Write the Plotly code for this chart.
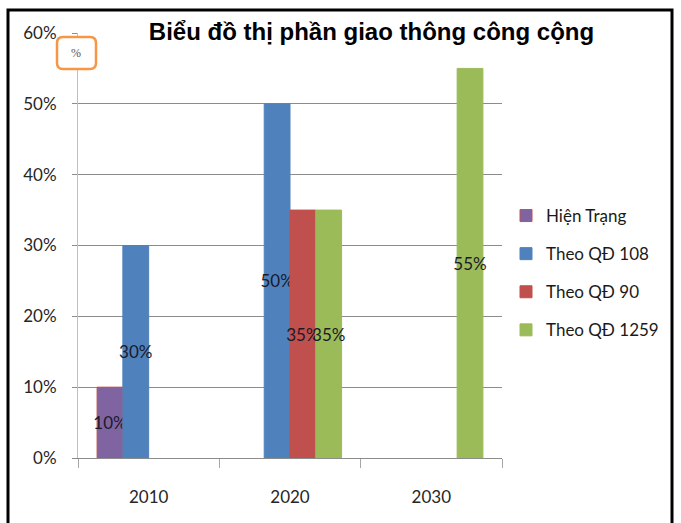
import plotly.graph_objects as go

# Chart data
years = ["2010", "2020", "2030"]
series_names = ["Hiện Trạng", "Theo QĐ 108", "Theo QĐ 90", "Theo QĐ 1259"]
hien_trang = [10, None, None]
qd_108 = [30, 50, None]
qd_90 = [None, 35, None]
qd_1259 = [None, 35, 55]
y_ticks = [0, 10, 20, 30, 40, 50, 60]
y_tick_labels = [f"{v}%" for v in y_ticks]

values = [hien_trang, qd_108, qd_90, qd_1259]
fills = ["#8064A2", "#4F81BD", "#C0504D", "#9BBB59"]
outlines = ["#C0504D", "#4F81BD", "#C0504D", "#9BBB59"]

# Page geometry (pixels)
W, H = 681, 523
ML, MR, MT, MB = 78, 179, 33, 65
PW, PH = W - ML - MR, H - MT - MB


def px(x):
    return (x - ML) / PW


def py(y):
    return (H - MB - y) / PH


fig = go.Figure()
for i, (name, vals) in enumerate(zip(series_names, values)):
    fig.add_trace(go.Bar(
        x=years,
        y=vals,
        name=name,
        legendgroup=name,
        marker=dict(color=fills[i], line=dict(color=outlines[i], width=1)),
        text=[f"{v}%" if v is not None else "" for v in vals],
        textposition="inside",
        insidetextanchor="middle",
        constraintext="none",
        textangle=0,
        insidetextfont=dict(family="Lato", size=17, color="#1a1a2a"),
        cliponaxis=False,
        hoverinfo="skip",
    ))

# Outer frame
frame = dict(type="rect", xref="paper", yref="paper",
             x0=px(8), x1=px(672), y0=py(535), y1=py(10),
             line=dict(color="black", width=3), fillcolor="rgba(0,0,0,0)",
             layer="above")


# Rounded unit box near the top of the value axis
def rounded_box(x0, y0, x1, y1, r):
    pts = [
        f"M{px(x0 + r)},{py(y0)}",
        f"L{px(x1 - r)},{py(y0)}",
        f"Q{px(x1)},{py(y0)} {px(x1)},{py(y0 + r)}",
        f"L{px(x1)},{py(y1 - r)}",
        f"Q{px(x1)},{py(y1)} {px(x1 - r)},{py(y1)}",
        f"L{px(x0 + r)},{py(y1)}",
        f"Q{px(x0)},{py(y1)} {px(x0)},{py(y1 - r)}",
        f"L{px(x0)},{py(y0 + r)}",
        f"Q{px(x0)},{py(y0)} {px(x0 + r)},{py(y0)}",
        "Z",
    ]
    return " ".join(pts)


unit_box = dict(type="path", xref="paper", yref="paper",
                path=rounded_box(57, 37, 96, 69, 6),
                line=dict(color="#F79646", width=2.5), fillcolor="white",
                layer="above")

fig.update_layout(
    width=W, height=H,
    margin=dict(l=ML, r=MR, t=MT, b=MB, autoexpand=False),
    paper_bgcolor="white", plot_bgcolor="white",
    barmode="group", bargap=0.27, bargroupgap=0,
    title=dict(text="<b>Biểu đồ thị phần giao thông công cộng</b>",
               x=px(371.5), xanchor="center", xref="paper",
               y=1 - 32 / H, yanchor="middle", yref="container",
               font=dict(family="Liberation Sans", size=24, color="black")),
    font=dict(family="Lato", size=17, color="#262626"),
    showlegend=True,
    legend=dict(x=px(506), y=py(198), xanchor="left", yanchor="top",
                xref="paper", yref="paper",
                font=dict(family="Lato", size=17, color="#1a1a1a"),
                tracegroupgap=13, bgcolor="rgba(0,0,0,0)"),
    xaxis=dict(type="category", tickson="boundaries", ticks="outside",
               ticklen=9, tickcolor="#a6a6a6", showline=True,
               linecolor="#8c8c8c", showgrid=False, automargin=False,
               ticklabelstandoff=24,
               tickfont=dict(family="Lato", size=17, color="#262626")),
    yaxis=dict(range=[0, 60], tickmode="array", tickvals=y_ticks,
               ticktext=y_tick_labels,
               ticks="outside", ticklen=5, tickcolor="#8c8c8c",
               showline=True, linecolor="#c0c0c0", showgrid=True,
               gridcolor="#8c8c8c", zeroline=False, automargin=False,
               ticklabelstandoff=12,
               tickfont=dict(family="Lato", size=17, color="#262626")),
    shapes=[frame, unit_box],
    annotations=[dict(text="%", xref="paper", yref="paper",
                      x=px(76), y=py(53), xanchor="center", yanchor="middle",
                      showarrow=False,
                      font=dict(family="Liberation Serif", size=12,
                                color="#555555"))],
)

fig.write_html("out.html")
